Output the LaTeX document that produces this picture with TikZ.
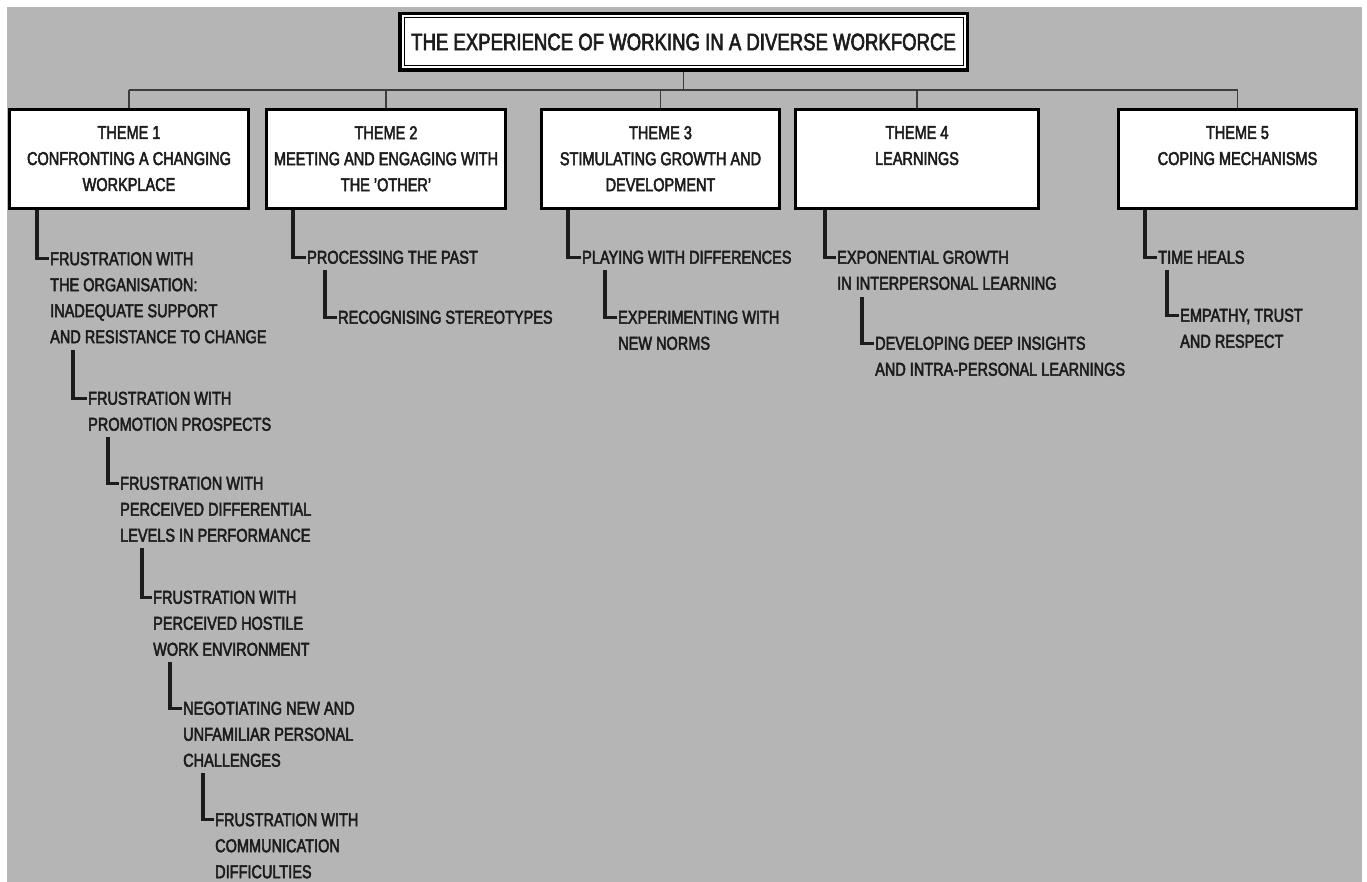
\documentclass[tikz,border=0pt]{standalone}
\usepackage{fontspec}
\setmainfont{Liberation Sans}[FakeStretch=0.78,FakeBold=2.6]
\usetikzlibrary{calc}
\definecolor{bg}{RGB}{181,181,181}
\definecolor{ink}{RGB}{28,28,28}
\definecolor{wire}{RGB}{60,60,60}
\begin{document}
\begin{tikzpicture}[x=1pt,y=-1pt,
  themebox/.style={draw=black, line width=3pt, fill=white, minimum height=99pt, inner sep=0pt},
  themelabel/.style={anchor=north, inner sep=0pt, align=center, text=ink, font=\fontsize{18.6}{26}\selectfont},
  kid/.style={anchor=north west, inner sep=0pt, align=left, text=ink, font=\fontsize{18.6}{26}\selectfont},
  elbow/.style={draw=ink, line width=3.2pt},
  link/.style={draw=wire, line width=1.2pt},
]
\useasboundingbox (0,0) rectangle (1367,882);
\fill[white] (0,0) rectangle (1367,882);
\fill[bg] (7,7) rectangle (1362,882);

% title
\node[draw=black, line width=3.5pt, fill=white, minimum width=567.5pt, minimum height=56.5pt, inner sep=0pt,
      text=ink, font=\fontsize{23.8}{28}\selectfont] (title) at (683.5,42)
  {THE EXPERIENCE OF WORKING IN A DIVERSE WORKFORCE};
\draw[line width=1pt] ($(title.north west)+(6,6)$) rectangle ($(title.south east)+(-6,-6)$);

% themes
\node[themebox, minimum width=239pt] (t1) at (129,159) {};
\node[themebox, minimum width=239pt] (t2) at (386,159) {};
\node[themebox, minimum width=238pt] (t3) at (660.5,159) {};
\node[themebox, minimum width=243pt] (t4) at (917,159) {};
\node[themebox, minimum width=238pt] (t5) at (1237.5,159) {};

\node[themelabel] (l1) at ([yshift=-18pt]t1.north) {THEME 1\\CONFRONTING A CHANGING\\WORKPLACE};
\node[themelabel] (l2) at ([yshift=-18pt]t2.north) {THEME 2\\MEETING AND ENGAGING WITH\\THE 'OTHER'};
\node[themelabel] (l3) at ([yshift=-18pt]t3.north) {THEME 3\\STIMULATING GROWTH AND\\DEVELOPMENT};
\node[themelabel] (l4) at ([yshift=-18pt]t4.north) {THEME 4\\LEARNINGS};
\node[themelabel] (l5) at ([yshift=-18pt]t5.north) {THEME 5\\COPING MECHANISMS};

% bus
\coordinate (bus) at (683.5,90);
\draw[link] (title.south) -- (bus);
\draw[link] (t1.north |- bus) -- (t5.north |- bus);
\foreach \t in {t1,t2,t3,t4,t5} \draw[link] (\t.north |- bus) -- (\t.north);

% theme 1 children
\node[kid] (c11) at (50,252) {FRUSTRATION WITH\\THE ORGANISATION:\\INADEQUATE SUPPORT\\AND RESISTANCE TO CHANGE};
\node[kid] (c12) at (88,391.5) {FRUSTRATION WITH\\PROMOTION PROSPECTS};
\node[kid] (c13) at (120,476.5) {FRUSTRATION WITH\\PERCEIVED DIFFERENTIAL\\LEVELS IN PERFORMANCE};
\node[kid] (c14) at (153,590.5) {FRUSTRATION WITH\\PERCEIVED HOSTILE\\WORK ENVIRONMENT};
\node[kid] (c15) at (183,701.5) {NEGOTIATING NEW AND\\UNFAMILIAR PERSONAL\\CHALLENGES};
\node[kid] (c16) at (215,813) {FRUSTRATION WITH\\COMMUNICATION\\DIFFICULTIES};

\draw[elbow] ($(t1.south west)+(29,0)$) |- ([xshift=-1.5pt,yshift=-6.7pt]c11.north west);
\draw[elbow] ($(c11.south west)+(23,6)$) |- ([xshift=-1.5pt,yshift=-6.7pt]c12.north west);
\draw[elbow] ($(c12.south west)+(20,6)$) |- ([xshift=-1.5pt,yshift=-6.7pt]c13.north west);
\draw[elbow] ($(c13.south west)+(22,6)$) |- ([xshift=-1.5pt,yshift=-6.7pt]c14.north west);
\draw[elbow] ($(c14.south west)+(17,6)$) |- ([xshift=-1.5pt,yshift=-6.7pt]c15.north west);
\draw[elbow] ($(c15.south west)+(20,6)$) |- ([xshift=-1.5pt,yshift=-6.7pt]c16.north west);

% theme 2 children
\node[kid] (c21) at (307,250.5) {PROCESSING THE PAST};
\node[kid] (c22) at (338,310.5) {RECOGNISING STEREOTYPES};
\draw[elbow] ($(t2.south west)+(28,0)$) |- ([xshift=-1.5pt,yshift=-6.7pt]c21.north west);
\draw[elbow] ($(c21.south west)+(18,6)$) |- ([xshift=-1.5pt,yshift=-6.7pt]c22.north west);

% theme 3 children
\node[kid] (c31) at (582,250.5) {PLAYING WITH DIFFERENCES};
\node[kid] (c32) at (618,310.5) {EXPERIMENTING WITH\\NEW NORMS};
\draw[elbow] ($(t3.south west)+(28,0)$) |- ([xshift=-1.5pt,yshift=-6.7pt]c31.north west);
\draw[elbow] ($(c31.south west)+(23,6)$) |- ([xshift=-1.5pt,yshift=-6.7pt]c32.north west);

% theme 4 children
\node[kid] (c41) at (837,250.5) {EXPONENTIAL GROWTH\\IN INTERPERSONAL LEARNING};
\node[kid] (c42) at (875,336.5) {DEVELOPING DEEP INSIGHTS\\AND INTRA-PERSONAL LEARNINGS};
\draw[elbow] ($(t4.south west)+(31,0)$) |- ([xshift=-1.5pt,yshift=-6.7pt]c41.north west);
\draw[elbow] ($(c41.south west)+(25,7)$) |- ([xshift=-1.5pt,yshift=-6.7pt]c42.north west);

% theme 5 children
\node[kid] (c51) at (1158,250.5) {TIME HEALS};
\node[kid] (c52) at (1180,308.5) {EMPATHY, TRUST\\AND RESPECT};
\draw[elbow] ($(t5.south west)+(28,0)$) |- ([xshift=-1.5pt,yshift=-6.7pt]c51.north west);
\draw[elbow] ($(c51.south west)+(9,6)$) |- ([xshift=-1.5pt,yshift=-6.7pt]c52.north west);
\end{tikzpicture}
\end{document}
